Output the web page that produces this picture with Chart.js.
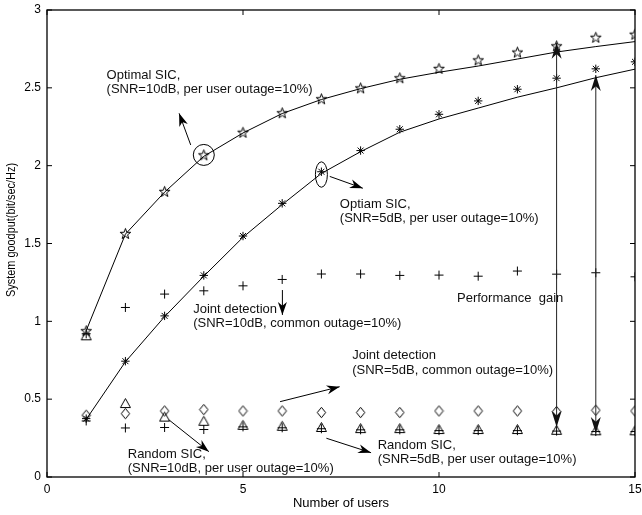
<!DOCTYPE html>
<html>
<head>
<meta charset="utf-8">
<script src="https://cdn.jsdelivr.net/npm/chart.js@4.4.1/dist/chart.umd.min.js"></script>
<style>
html,body{margin:0;padding:0;background:#fff;}
#c{display:block;}
</style>
</head>
<body>
<canvas id="c" width="642" height="515"></canvas>
<script>
// ---------------- data ----------------
const users = [1,2,3,4,5,6,7,8,9,10,11,12,13,14,15];
const xTicks = [0,5,10,15];
const yTicks = [0,0.5,1,1.5,2,2.5,3];

const optSic10    = [0.94,1.565,1.835,2.07,2.215,2.34,2.43,2.50,2.565,2.625,2.68,2.73,2.77,2.825,2.845];
const optSic10Fit = [0.94,1.56,1.83,2.06,2.21,2.335,2.425,2.495,2.555,2.60,2.64,2.685,2.73,2.765,2.797];
const optSic5     = [0.375,0.744,1.035,1.295,1.548,1.758,1.961,2.097,2.234,2.33,2.416,2.491,2.562,2.622,2.667];
const optSic5Fit  = [0.37,0.74,1.03,1.29,1.54,1.75,1.95,2.09,2.215,2.30,2.37,2.44,2.50,2.565,2.62];
const joint10     = [0.92,1.089,1.175,1.196,1.228,1.269,1.304,1.304,1.295,1.297,1.29,1.323,1.303,1.312,1.286];
const joint5      = [0.397,0.407,0.424,0.433,0.424,0.424,0.414,0.414,0.414,0.424,0.424,0.424,0.42,0.429,0.424];
const random10    = [0.907,0.472,0.385,0.358,0.332,0.326,0.318,0.311,0.311,0.305,0.305,0.305,0.30,0.297,0.297];
const random5     = [0.36,0.315,0.318,0.305,0.322,0.316,0.31,0.303,0.303,0.298,0.298,0.298,0.295,0.292,0.292];

// annotation texts: [x, y, lines]
const labels = [
  [1.52, 2.582, ["Optimal SIC,", "(SNR=10dB, per user outage=10%)"]],
  [7.47, 1.752, ["Optiam SIC,", "(SNR=5dB, per user outage=10%)"]],
  [3.73, 1.077, ["Joint detection", "(SNR=10dB, common outage=10%)"]],
  [10.46, 1.148, ["Performance  gain"]],
  [7.786, 0.779, ["Joint detection", "(SNR=5dB, common outage=10%)"]],
  [2.06, 0.146, ["Random SIC,", "(SNR=10dB, per user outage=10%)"]],
  [8.437, 0.206, ["Random SIC,", "(SNR=5dB, per user outage=10%)"]]
];
// arrows: [x1,y1,x2,y2] tail -> head (data units)
const arrows = [
  [3.666, 2.133, 3.370, 2.336],
  [7.213, 1.931, 8.057, 1.855],
  [6.005, 1.201, 6.005, 1.041],
  [5.946, 0.484, 7.466, 0.580],
  [3.116, 0.366, 4.130, 0.163],
  [7.127, 0.249, 8.267, 0.156]
];
// double arrows (performance gain): [x, yLow, yHigh]
const gainArrows = [
  [13, 0.321, 2.79],
  [14, 0.283, 2.582]
];
// highlight circle / ellipse: [x, y, rxPx, ryPx]
const highlights = [
  [4, 2.069, 10.5, 10.5],
  [7, 1.943, 6, 12.7]
];

const FONT = "'Liberation Sans', Arial, Helvetica, sans-serif";

// ---------------- marker images ----------------
function mk(w, h, fn){
  const c = document.createElement('canvas');
  c.width = w; c.height = h;
  const g = c.getContext('2d');
  g.strokeStyle = '#000'; g.lineWidth = 1; g.lineJoin = 'miter';
  fn(g, w/2, h/2);
  return c;
}
const starImg = mk(15,15,(g,cx,cy)=>{
  const R = 5.6, r = R*0.40;
  g.beginPath();
  for(let i=0;i<10;i++){
    const a = -Math.PI/2 + i*Math.PI/5;
    const rr = i%2===0 ? R : r;
    const px = cx + rr*Math.cos(a), py = cy + rr*Math.sin(a) + 0.6;
    if(i===0) g.moveTo(px,py); else g.lineTo(px,py);
  }
  g.closePath(); g.stroke();
});
const diamondImg = mk(11,13,(g,cx,cy)=>{
  g.beginPath();
  g.moveTo(cx, cy-5.2); g.lineTo(cx+4.2, cy); g.lineTo(cx, cy+5.2); g.lineTo(cx-4.2, cy);
  g.closePath(); g.stroke();
});
const triImg = mk(13,13,(g,cx,cy)=>{
  g.beginPath();
  g.moveTo(cx, cy-5); g.lineTo(cx+5, cy+4); g.lineTo(cx-5, cy+4);
  g.closePath(); g.stroke();
});

const pts = arr => users.map((u,i)=>({x:u, y:arr[i]}));

// ---------------- plugins ----------------
function drawArrowHead(ctx, x1, y1, x2, y2, L, W){
  const ang = Math.atan2(y2-y1, x2-x1);
  ctx.save();
  ctx.translate(x2, y2);
  ctx.rotate(ang);
  ctx.beginPath();
  ctx.moveTo(0,0);
  ctx.lineTo(-L, -W/2);
  ctx.lineTo(-L*0.7, 0);
  ctx.lineTo(-L, W/2);
  ctx.closePath();
  ctx.fill();
  ctx.restore();
}

const framePlugin = {
  id: 'frame',
  afterDatasetsDraw(chart){
    const {ctx, chartArea: a, scales: {x, y}} = chart;
    ctx.save();
    ctx.strokeStyle = '#000';
    ctx.lineWidth = 1.3;
    ctx.strokeRect(a.left, a.top, a.right - a.left, a.bottom - a.top);
    ctx.lineWidth = 1;
    ctx.beginPath();
    const tl = 5;
    xTicks.forEach(v=>{
      const px = x.getPixelForValue(v);
      ctx.moveTo(px, a.bottom); ctx.lineTo(px, a.bottom - tl);
      ctx.moveTo(px, a.top); ctx.lineTo(px, a.top + tl);
    });
    yTicks.forEach(v=>{
      const py = y.getPixelForValue(v);
      ctx.moveTo(a.left, py); ctx.lineTo(a.left + tl, py);
      ctx.moveTo(a.right, py); ctx.lineTo(a.right - tl, py);
    });
    ctx.stroke();
    ctx.restore();
  }
};

const annoPlugin = {
  id: 'anno',
  afterDraw(chart){
    const {ctx, scales: {x, y}} = chart;
    ctx.save();
    // texts
    ctx.fillStyle = '#111';
    ctx.font = "13px " + FONT;
    ctx.textAlign = 'left';
    ctx.textBaseline = 'middle';
    labels.forEach(([lx, ly, lines])=>{
      const px = x.getPixelForValue(lx), py = y.getPixelForValue(ly);
      lines.forEach((t,i)=> ctx.fillText(t, px, py + i*14.5));
    });
    // arrows
    ctx.strokeStyle = '#000'; ctx.fillStyle = '#000'; ctx.lineWidth = 1;
    arrows.forEach(([x1,y1,x2,y2])=>{
      const p1x = x.getPixelForValue(x1), p1y = y.getPixelForValue(y1);
      const p2x = x.getPixelForValue(x2), p2y = y.getPixelForValue(y2);
      ctx.beginPath(); ctx.moveTo(p1x,p1y); ctx.lineTo(p2x,p2y); ctx.stroke();
      drawArrowHead(ctx, p1x, p1y, p2x, p2y, 13, 9);
    });
    ctx.strokeStyle = '#222'; ctx.fillStyle = '#111';
    gainArrows.forEach(([gx, lo, hi])=>{
      const px = x.getPixelForValue(gx);
      const pl = y.getPixelForValue(lo), ph = y.getPixelForValue(hi);
      ctx.beginPath(); ctx.moveTo(px, pl); ctx.lineTo(px, ph); ctx.stroke();
      drawArrowHead(ctx, px, pl, px, ph, 16, 10);
      drawArrowHead(ctx, px, ph, px, pl, 16, 10);
    });
    // highlights
    ctx.strokeStyle = '#000'; ctx.lineWidth = 1;
    highlights.forEach(([hx, hy, rx, ry])=>{
      ctx.beginPath();
      ctx.ellipse(x.getPixelForValue(hx), y.getPixelForValue(hy), rx, ry, 0, 0, Math.PI*2);
      ctx.stroke();
    });
    // y axis title
    ctx.fillStyle = '#000';
    ctx.font = "13px " + FONT;
    ctx.textAlign = 'center';
    ctx.translate(11, 230);
    ctx.rotate(-Math.PI/2);
    ctx.scale(0.84, 1);
    ctx.fillText('System goodput(bit/sec/Hz)', 0, 0);
    ctx.restore();
  }
};

// ---------------- chart ----------------
new Chart(document.getElementById('c'), {
  type: 'scatter',
  data: {
    datasets: [
      {data: pts(optSic10Fit), showLine: true, borderColor: '#000', borderWidth: 1, pointRadius: 0, tension: 0},
      {data: pts(optSic5Fit),  showLine: true, borderColor: '#000', borderWidth: 1, pointRadius: 0, tension: 0},
      {data: pts(joint10),  pointStyle: 'cross', radius: 4.5, borderColor: '#000', borderWidth: 1},
      {data: pts(random5),  pointStyle: 'cross', radius: 4.5, borderColor: '#000', borderWidth: 1},
      {data: pts(joint5),   pointStyle: diamondImg, radius: 5},
      {data: pts(random10), pointStyle: triImg, radius: 5},
      {data: pts(optSic5),  pointStyle: 'star', radius: 4.2, borderColor: '#000', borderWidth: 1},
      {data: pts(optSic10), pointStyle: starImg, radius: 6}
    ]
  },
  options: {
    responsive: false,
    animation: false,
    devicePixelRatio: 1,
    layout: {padding: {top: 10, right: 3, left: 0, bottom: 0}},
    plugins: {legend: {display: false}, tooltip: {enabled: false}},
    elements: {point: {hoverRadius: 0}},
    scales: {
      x: {
        type: 'linear', min: 0, max: 15,
        afterBuildTicks(s){ s.ticks = xTicks.map(v=>({value:v})); },
        ticks: {font: {family: FONT, size: 12}, color: '#000', padding: 5, maxRotation: 0, autoSkip: false,
                callback: v => String(v)},
        grid: {display: false, drawTicks: false},
        border: {display: false},
        title: {display: true, text: 'Number of users', color: '#000', font: {family: FONT, size: 13}, padding: {top: 0, bottom: 4}},
        afterFit(s){ s.height = 38; s.paddingLeft = 0; s.paddingRight = 0; }
      },
      y: {
        type: 'linear', min: 0, max: 3,
        afterBuildTicks(s){ s.ticks = yTicks.map(v=>({value:v})); },
        ticks: {font: {family: FONT, size: 12}, color: '#000', padding: 6, autoSkip: false,
                callback: v => String(v)},
        grid: {display: false, drawTicks: false},
        border: {display: false},
        afterFit(s){ s.width = 47; s.paddingTop = 0; s.paddingBottom = 0; }
      }
    }
  },
  plugins: [framePlugin, annoPlugin]
});
</script>
</body>
</html>
